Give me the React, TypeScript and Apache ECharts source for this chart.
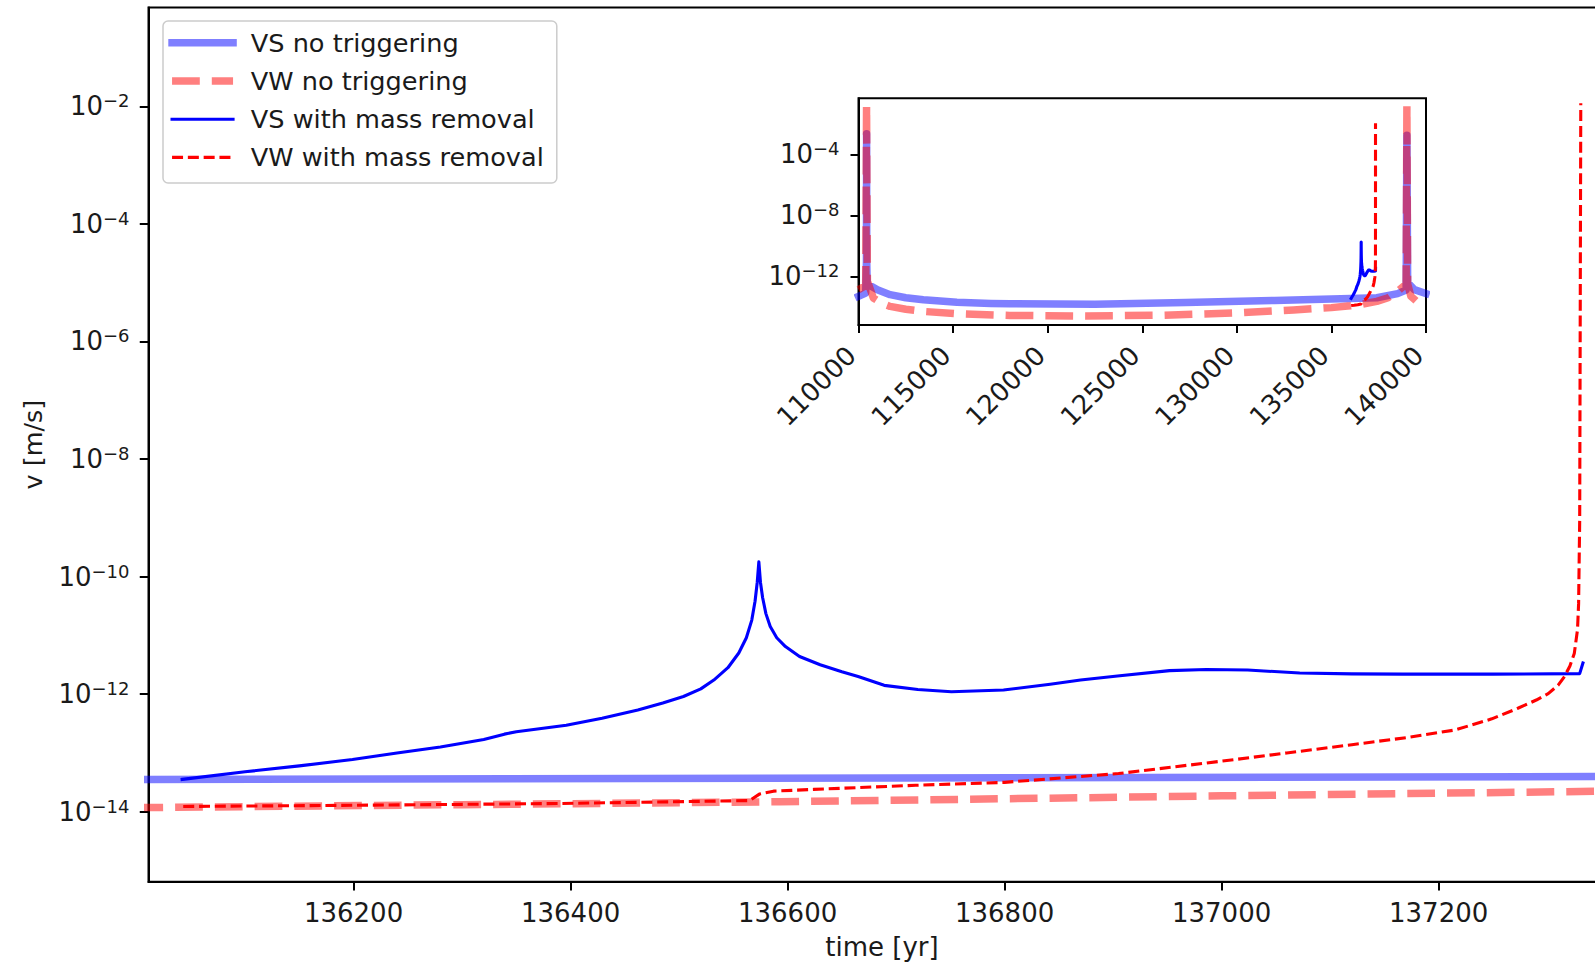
import React, { useEffect, useRef } from 'react';
import * as echarts from 'echarts';

const FONT = '"DejaVu Sans", Verdana, sans-serif';
const TXT = '#1a1a1a';

const seriesNames = ['VS no triggering', 'VW no triggering', 'VS with mass removal', 'VW with mass removal'];

// time [yr] and log10(v [m/s])
const vsNoTrigTime = [110000, 110380, 110420, 110428, 110436, 110460, 110700, 111000, 111670, 112500, 113430, 115200, 117000, 118000, 122500, 127300, 132000, 135000, 136000, 137400, 138500, 138950, 138990, 139030, 139382, 140000];
const vsNoTrigLogV = [-13.31, -13.1, -11.0, -2.64, -11.0, -12.55, -12.66, -12.88, -13.2, -13.4, -13.53, -13.7, -13.78, -13.8, -13.83, -13.72, -13.58, -13.48, -13.45, -13.4, -13.13, -12.9, -2.75, -12.4, -12.87, -13.13];

const vwNoTrigTime = [110000, 110380, 110426, 110470, 110785, 111200, 111670, 112500, 113430, 115200, 118000, 122000, 126000, 130000, 133000, 135000, 136000, 136300, 136593, 137000, 137400, 138000, 138500, 138950, 138990, 139030, 139200, 139500, 140000];
const vwNoTrigLogV = [-12.87, -12.6, -0.79, -12.3, -13.42, -13.75, -13.97, -14.16, -14.3, -14.45, -14.56, -14.6, -14.55, -14.4, -14.2, -14.05, -13.93, -13.88, -13.83, -13.73, -13.64, -13.4, -12.98, -12.5, -0.79, -12.5, -13.3, -13.64, -13.97];

const vsMassTime = [136042, 136100, 136150, 136199, 136240, 136280, 136320, 136339, 136350, 136396, 136429, 136462, 136485, 136504, 136520, 136532, 136545, 136555, 136562, 136567, 136570, 136572, 136573.5, 136575, 136577, 136580, 136584, 136590, 136598, 136611, 136630, 136650, 136665, 136689, 136720, 136751, 136799, 136842, 136870, 136904, 136952, 136986, 137024, 137072, 137120, 137167, 137250, 137330, 137333];
const vsMassLogV = [-13.45, -13.32, -13.22, -13.11, -13.0, -12.9, -12.77, -12.68, -12.64, -12.53, -12.41, -12.27, -12.15, -12.04, -11.91, -11.76, -11.55, -11.3, -11.04, -10.74, -10.42, -10.1, -9.75, -10.1, -10.36, -10.63, -10.85, -11.04, -11.19, -11.36, -11.5, -11.62, -11.7, -11.85, -11.92, -11.96, -11.93, -11.83, -11.76, -11.69, -11.6, -11.58, -11.59, -11.64, -11.655, -11.66, -11.66, -11.65, -11.47];

const vwMassTime = [136043, 136200, 136391, 136565, 136574, 136587, 136624, 136718, 136800, 136905, 137000, 137060, 137120, 137170, 137215, 137249, 137273, 137290, 137301, 137310, 137316, 137321, 137325, 137328, 137329, 137330, 137331];
const vwMassLogV = [-13.91, -13.89, -13.86, -13.81, -13.7, -13.65, -13.62, -13.55, -13.5, -13.35, -13.14, -13.0, -12.86, -12.74, -12.61, -12.42, -12.24, -12.1, -11.99, -11.85, -11.7, -11.52, -11.31, -10.9, -10.46, -9.04, -1.95];

const mainXTicks = [136200, 136400, 136600, 136800, 137000, 137200];
const mainYTicks = [-14, -12, -10, -8, -6, -4, -2];
const insetYTicks = [-12, -8, -4];
const mainXRange = [136011, 137363];
const insetXRange = [110000, 140000];
const logVRange = [-15.19, -0.32];

const zip = (t: number[], v: number[]) => t.map((x, i) => [x, v[i]]);

const styles = [
  { color: '#0000ff', width: 7.5, type: 'solid' as any, opacity: 0.5, cap: 'square' },
  { color: '#ff0000', width: 7.5, type: [27.75, 12] as any, opacity: 0.5, cap: 'butt' },
  { color: '#0000ff', width: 3.1, type: 'solid' as any, opacity: 1, cap: 'square' },
  { color: '#ff0000', width: 3.1, type: [11, 4.8] as any, opacity: 1, cap: 'butt' },
];
const datasets = [
  zip(vsNoTrigTime, vsNoTrigLogV),
  zip(vwNoTrigTime, vwNoTrigLogV),
  zip(vsMassTime, vsMassLogV),
  zip(vwMassTime, vwMassLogV),
];

const powLabel = (v: number) => `{b|10}{s|\u2212${Math.abs(v)}}`;

function buildOption() {
  const series: any[] = [];
  [0, 1].forEach((g) => {
    seriesNames.forEach((name, i) => {
      const s = styles[i];
      series.push({
        name,
        type: 'line',
        xAxisIndex: g,
        yAxisIndex: g,
        data: datasets[i],
        symbol: 'none',
        showSymbol: false,
        silent: true,
        clip: true,
        color: s.color,
        itemStyle: { color: s.color },
        lineStyle: { color: s.color, width: s.width, type: s.type, opacity: s.opacity, join: 'round', cap: s.cap },
        z: 2 + g * 10,
      });
    });
  });

  const tickStyle = { color: '#000', width: 2 };
  const richMain = {
    b: { fontSize: 26, fontFamily: FONT, color: TXT, lineHeight: 29 },
    s: { fontSize: 18, fontFamily: FONT, color: TXT, lineHeight: 18, verticalAlign: 'top' },
  };

  return {
    animation: false,
    backgroundColor: '#ffffff',
    textStyle: { fontFamily: FONT },
    grid: [
      { left: 148.5, top: 7.5, width: 1467, height: 874.2, outerBoundsMode: 'none', containLabel: false, show: true, borderColor: '#000', borderWidth: 2, backgroundColor: '#fff', z: 0 },
      { left: 858.5, top: 98.3, width: 567.5, height: 226.7, outerBoundsMode: 'none', containLabel: false, show: true, borderColor: '#000', borderWidth: 2, backgroundColor: '#fff', z: 8 },
    ],
    legend: {
      orient: 'vertical',
      left: 163,
      top: 21,
      itemWidth: 61,
      itemHeight: 28,
      itemGap: 10.2,
      padding: [7.8, 13, 11.6, 5.3],
      backgroundColor: 'rgba(255,255,255,0.8)',
      borderColor: '#cccccc',
      borderWidth: 1.5,
      borderRadius: 5,
      selectedMode: false,
      data: seriesNames,
      itemStyle: { opacity: 0 },
      lineStyle: { width: 'inherit' },
      textStyle: { fontSize: 25.6, fontFamily: FONT, color: TXT, lineHeight: 28, padding: [0, 0, 0, 12.7] },
      z: 30,
    },
    xAxis: [
      {
        type: 'value', gridIndex: 0, min: mainXRange[0], max: mainXRange[1],
        splitLine: { show: false },
        axisLine: { show: true, onZero: false, lineStyle: tickStyle },
        axisTick: { show: true, length: 8.75, lineStyle: tickStyle, customValues: mainXTicks },
        axisLabel: { customValues: mainXTicks, fontSize: 26, fontFamily: FONT, color: TXT, margin: 18, formatter: (v: number) => String(v) },
        name: 'time [yr]', nameLocation: 'middle', nameGap: 52,
        nameTextStyle: { fontSize: 26, fontFamily: FONT, color: TXT },
      },
      {
        type: 'value', gridIndex: 1, min: insetXRange[0], max: insetXRange[1], interval: 5000,
        splitLine: { show: false },
        axisLine: { show: true, onZero: false, lineStyle: tickStyle },
        axisTick: { show: true, length: 8, lineStyle: tickStyle },
        axisLabel: { rotate: 45, fontSize: 26, fontFamily: FONT, color: TXT, margin: 19, padding: [0, 10, 0, 0], showMinLabel: true, showMaxLabel: true, formatter: (v: number) => String(v) },
        z: 10,
      },
    ],
    yAxis: [
      {
        type: 'value', gridIndex: 0, min: logVRange[0], max: logVRange[1],
        splitLine: { show: false },
        axisLine: { show: true, onZero: false, lineStyle: tickStyle },
        axisTick: { show: true, length: 8.75, lineStyle: tickStyle, customValues: mainYTicks },
        axisLabel: { customValues: mainYTicks, margin: 19, formatter: powLabel, rich: richMain },
        name: 'v [m/s]', nameLocation: 'middle', nameGap: 103,
        nameTextStyle: { fontSize: 25.5, fontFamily: FONT, color: TXT },
      },
      {
        type: 'value', gridIndex: 1, min: logVRange[0], max: logVRange[1],
        splitLine: { show: false },
        axisLine: { show: true, onZero: false, lineStyle: tickStyle },
        axisTick: { show: true, length: 8, lineStyle: tickStyle, customValues: insetYTicks },
        axisLabel: { customValues: insetYTicks, margin: 19, formatter: powLabel, rich: richMain },
        z: 10,
      },
    ],
    series,
  };
}

export default function App() {
  const ref = useRef<HTMLDivElement>(null);
  useEffect(() => {
    if (!ref.current) return;
    const chart = echarts.init(ref.current, null, { renderer: 'svg', width: 1595, height: 963 });
    chart.setOption(buildOption() as any);
    return () => chart.dispose();
  }, []);
  return (
    <div
      ref={ref}
      style={{ position: 'fixed', left: 0, top: 0, width: 1595, height: 963, background: '#fff', overflow: 'hidden' }}
    />
  );
}
